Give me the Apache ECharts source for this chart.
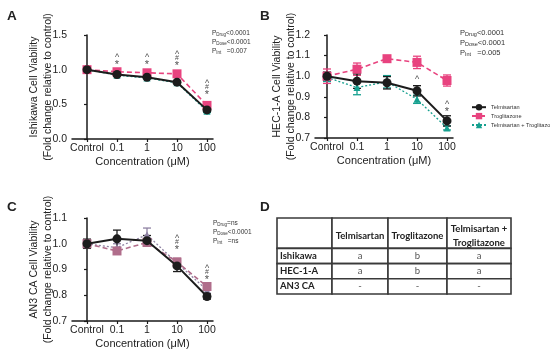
<!DOCTYPE html>
<html><head><meta charset="utf-8">
<script src="https://cdn.jsdelivr.net/npm/echarts@6/dist/echarts.min.js"></script>
<style>html,body{margin:0;padding:0;background:#fff}#c{width:550px;height:354px}</style>
</head><body><div id="c"></div>
<script>
// ---------- DATA ----------
const categories = ['Control', '0.1', '1', '10', '100'];
const seriesNames = ['Telmisartan', 'Troglitazone', 'Telmisartan + Troglitazone'];

// Panel A: Ishikawa
const aTel = [1.00, 0.93, 0.89, 0.82, 0.42];
const aTelErr = [0.012, 0.015, 0.012, 0.015, 0.02];
const aTro = [1.00, 0.97, 0.955, 0.94, 0.485];
const aTroErr = [0.01, 0.012, 0.01, 0.012, 0.02];
const aCombo = [1.00, 0.92, 0.88, 0.81, 0.40];
const aComboErr = [0.01, 0.01, 0.01, 0.012, 0.02];
const aMarks = ['', '^\n*', '^\n*', '^\n#\n*', '^\n#\n*'];
const aMarkY = [null, 0.984, 0.984, 0.969, 0.551];
const aPvals = [['Drug', '<0.0001'], ['Dose', '<0.0001'], ['Int', '   =0.007']];

// Panel B: HEC-1-A
const bTel = [1.00, 0.976, 0.968, 0.929, 0.783];
const bTelErr = [0.02, 0.035, 0.03, 0.025, 0.025];
const bTro = [1.00, 1.034, 1.085, 1.067, 0.979];
const bTroErr = [0.035, 0.03, 0.01, 0.03, 0.027];
const bCombo = [0.994, 0.945, 0.973, 0.888, 0.749];
const bComboErr = [0.02, 0.035, 0.03, 0.02, 0.01];
const bMarks = ['', '', '', '^', '^\n*'];
const bMarkY = [null, null, null, 0.972, 0.798];
const bPvals = [['Drug', '<0.0001'], ['Dose', '<0.0001'], ['Int', '   =0.005']];

// Panel C: AN3 CA
const cTel = [1.00, 1.019, 1.012, 0.914, 0.795];
const cTelErr = [0.018, 0.034, 0.02, 0.022, 0.01];
const cTro = [1.00, 0.972, 1.005, 0.929, 0.834];
const cTroErr = [0.015, 0.012, 0.015, 0.015, 0.012];
const cCombo = [1.00, 0.985, 1.035, 0.925, 0.82];
const cComboErr = [0.015, 0.015, 0.026, 0.015, 0.012];
const cMarks = ['', '', '', '^\n#\n*', '^\n#\n*'];
const cMarkY = [null, null, null, 0.953, 0.836];
const cPvals = [['Drug', '=ns'], ['Dose', '<0.0001'], ['Int', '   =ns']];

// Panel D: table
const tableHeader = ['', 'Telmisartan', 'Troglitazone', 'Telmisartan +\nTroglitazone'];
const tableRows = ['Ishikawa', 'HEC-1-A', 'AN3 CA'];
const tableValues = [['a', 'b', 'a'], ['a', 'b', 'a'], ['-', '-', '-']];

// ---------- CHART ----------
const FONT = 'Liberation Sans';
const chart = echarts.init(document.getElementById('c'), null, {renderer: 'canvas'});

const colorsMain = {tel: '#1c1c1c', tro: '#e8437f', combo: '#16a08f'};
const colorsC = {tel: '#1c1c1c', tro: '#b06d8b', combo: '#8f82a3'};

function xAxisFor(gi, min, max) {
  return {
    type: 'value', gridIndex: gi, min: min, max: max,
    axisLine: {show: true, onZero: false, lineStyle: {color: '#1a1a1a', width: 1.5}},
    axisTick: {show: true, length: 3, customValues: [0, 1, 2, 3, 4], lineStyle: {color: '#1a1a1a', width: 1.2}},
    axisLabel: {customValues: [0, 1, 2, 3, 4], formatter: v => categories[Math.round(v)],
      fontFamily: FONT, fontSize: 10.5, color: '#222', margin: 4},
    splitLine: {show: false},
    name: 'Concentration (μM)', nameLocation: 'middle', nameGap: 17, nameMoveOverlap: false,
    nameTextStyle: {fontFamily: FONT, fontSize: 11, color: '#222'}
  };
}
function yAxisFor(gi, min, max, interval, cell) {
  return {
    type: 'value', gridIndex: gi, min: min, max: max, interval: interval,
    axisLine: {show: true, lineStyle: {color: '#1a1a1a', width: 1.5}},
    axisTick: {show: true, length: 3, lineStyle: {color: '#1a1a1a', width: 1.2}},
    axisLabel: {formatter: v => v.toFixed(1), fontFamily: FONT, fontSize: 10.5, color: '#222', margin: 5},
    splitLine: {show: false},
    name: cell + ' Cell Viability\n(Fold change relative to control)',
    nameLocation: 'middle', nameRotate: 90, nameGap: 17, nameMoveOverlap: false,
    nameTextStyle: {fontFamily: FONT, fontSize: 10.5, lineHeight: 14, color: '#222'}
  };
}

function errSeries(gi, vals, errs, color) {
  return {
    type: 'custom', xAxisIndex: gi, yAxisIndex: gi, z: 2, silent: true,
    data: vals.map((v, i) => [i, v, errs[i]]),
    renderItem: function (params, api) {
      const x = api.value(0), v = api.value(1), e = api.value(2);
      const hi = api.coord([x, v + e]), lo = api.coord([x, v - e]);
      const w = 4, st = {stroke: color, lineWidth: 1.3};
      return {type: 'group', children: [
        {type: 'line', shape: {x1: hi[0], y1: hi[1], x2: lo[0], y2: lo[1]}, style: st},
        {type: 'line', shape: {x1: hi[0] - w, y1: hi[1], x2: hi[0] + w, y2: hi[1]}, style: st},
        {type: 'line', shape: {x1: lo[0] - w, y1: lo[1], x2: lo[0] + w, y2: lo[1]}, style: st}
      ]};
    }
  };
}
function lineSeries(gi, name, vals, color, symbol, size, lineType, width, z) {
  return {
    type: 'line', name: name, xAxisIndex: gi, yAxisIndex: gi, z: z,
    data: vals.map((v, i) => [i, v]),
    symbol: symbol, symbolSize: size, showSymbol: true,
    lineStyle: {color: color, width: width, type: lineType},
    itemStyle: {color: color, borderWidth: 0}
  };
}
const markClass = {'^': 'c', '#': 'h', '*': 's'};
function markSeries(gi, marks, markY) {
  const data = [];
  marks.forEach((m, i) => { if (m) data.push({name: m, value: [i, markY[i]]}); });
  return {
    type: 'scatter', xAxisIndex: gi, yAxisIndex: gi, z: 6, silent: true,
    symbolSize: 1, itemStyle: {color: 'rgba(0,0,0,0)'},
    data: data,
    label: {show: true, position: 'top', distance: 0,
      formatter: p => p.name.split('\n').map(ch => '{' + markClass[ch] + '|' + ch + '}').join('\n'),
      fontFamily: FONT, color: '#222',
      rich: {
        c: {fontFamily: FONT, fontSize: 9, lineHeight: 3, color: '#222'},
        h: {fontFamily: FONT, fontSize: 7, lineHeight: 4.5, color: '#222'},
        s: {fontFamily: FONT, fontSize: 11, lineHeight: 10.8, color: '#222'}
      }}
  };
}
function panel(gi, prefix, tel, telE, tro, troE, combo, comboE, marks, markY, col) {
  const nm = n => prefix + n;
  return [
    errSeries(gi, combo, comboE, col.combo),
    errSeries(gi, tro, troE, col.tro),
    errSeries(gi, tel, telE, col.tel),
    lineSeries(gi, nm(seriesNames[2]), combo, col.combo, 'triangle', 7, [2, 2], 1.3, 3),
    lineSeries(gi, nm(seriesNames[1]), tro, col.tro, 'rect', 9, [5, 3], 1.6, 4),
    lineSeries(gi, nm(seriesNames[0]), tel, col.tel, 'circle', 9, 'solid', 2, 5),
    markSeries(gi, marks, markY)
  ];
}

// table cells
const tableCells = [];
tableHeader.forEach((t, c) => tableCells.push({c: c, r: 0, text: t}));
tableRows.forEach((rn, r) => {
  tableCells.push({c: 0, r: r + 1, text: rn});
  tableValues[r].forEach((v, c) => tableCells.push({c: c + 1, r: r + 1, text: v}));
});
const colEdges = [0, 55, 111, 170, 234]; // layout of table columns (px units on table axis)

const tableSeries = {
  type: 'custom', xAxisIndex: 3, yAxisIndex: 3, silent: true,
  data: tableCells.map(d => [d.c, d.r]),
  renderItem: function (params, api) {
    const cell = tableCells[params.dataIndex];
    const c = cell.c, r = cell.r;
    const y0 = r === 0 ? 0 : r + 1, y1 = r === 0 ? 2 : r + 2;
    const p0 = api.coord([colEdges[c], y0]), p1 = api.coord([colEdges[c + 1], y1]);
    const header = r === 0, rowLabel = c === 0;
    const children = [{
      type: 'rect', shape: {x: p0[0], y: p0[1], width: p1[0] - p0[0], height: p1[1] - p0[1]},
      style: {fill: '#fff', stroke: '#3a3a3a', lineWidth: 1.6}
    }];
    if (cell.text) {
      children.push({
        type: 'text',
        x: rowLabel ? p0[0] + 3 : (p0[0] + p1[0]) / 2,
        y: (p0[1] + p1[1]) / 2 + (header ? 3 : 0),
        style: {text: cell.text, align: rowLabel ? 'left' : 'center', verticalAlign: 'middle',
          fontFamily: 'Lato', fontWeight: (header || rowLabel) ? 'bold' : 'normal',
          fontSize: 9.5, lineHeight: 14, fill: (header || rowLabel) ? '#222' : '#555'}
      });
    }
    return {type: 'group', children: children};
  }
};

function pText(pv) {
  return pv.map(p => '{p|P}{s|' + p[0] + '}{p|' + p[1] + '}').join('\n');
}
function pGraphic(x, y, pv, fs) {
  return {type: 'text', left: x, top: y, z: 10,
    style: {text: pText(pv), fill: '#333',
      rich: {p: {fontFamily: FONT, fontSize: fs, lineHeight: fs + 2.5, fill: '#333'},
             s: {fontFamily: FONT, fontSize: fs - 2, lineHeight: fs + 2.5, fill: '#333', padding: [3, 0, 0, 0]}}}};
}
function letter(x, y, t) {
  return {type: 'text', left: x, top: y, z: 10,
    style: {text: t, fontFamily: FONT, fontWeight: 'bold', fontSize: 13.5, fill: '#222'}};
}

const option = {
  animation: false,
  backgroundColor: '#fff',
  grid: [
    {left: 72, top: 35, width: 141, height: 104},
    {left: 315, top: 35, width: 138, height: 103},
    {left: 72, top: 218, width: 141, height: 103},
    {left: 277, top: 218, width: 234, height: 76}
  ],
  xAxis: [
    xAxisFor(0, -0.5, 4.2),
    xAxisFor(1, -0.4, 4.2),
    xAxisFor(2, -0.5, 4.2),
    {type: 'value', gridIndex: 3, min: 0, max: 234, show: false}
  ],
  yAxis: [
    yAxisFor(0, 0, 1.5, 0.5, 'Ishikawa'),
    yAxisFor(1, 0.7, 1.2, 0.1, 'HEC-1-A'),
    yAxisFor(2, 0.7, 1.1, 0.1, 'AN3 CA'),
    {type: 'value', gridIndex: 3, min: 0, max: 5, inverse: true, show: false}
  ],
  legend: {
    data: seriesNames.map(n => 'B' + n),
    formatter: n => n.slice(1),
    orient: 'vertical', left: 466, top: 99, itemGap: 2.5,
    itemWidth: 14, itemHeight: 8, selectedMode: false,
    textStyle: {fontFamily: FONT, fontSize: 5.6, color: '#333', width: 80, overflow: 'none'}
  },
  graphic: [
    letter(7, 9, 'A'), letter(260, 9, 'B'), letter(7, 200, 'C'), letter(260, 200, 'D'),
    pGraphic(212, 29, aPvals, 6.5),
    pGraphic(460, 28, bPvals, 7.5),
    pGraphic(213, 219, cPvals, 6.5)
  ],
  series: [].concat(
    panel(1, 'B', bTel, bTelErr, bTro, bTroErr, bCombo, bComboErr, bMarks, bMarkY, colorsMain),
    panel(0, 'A', aTel, aTelErr, aTro, aTroErr, aCombo, aComboErr, aMarks, aMarkY, colorsMain),
    panel(2, 'C', cTel, cTelErr, cTro, cTroErr, cCombo, cComboErr, cMarks, cMarkY, colorsC),
    [tableSeries]
  )
};
chart.setOption(option);
</script></body></html>
